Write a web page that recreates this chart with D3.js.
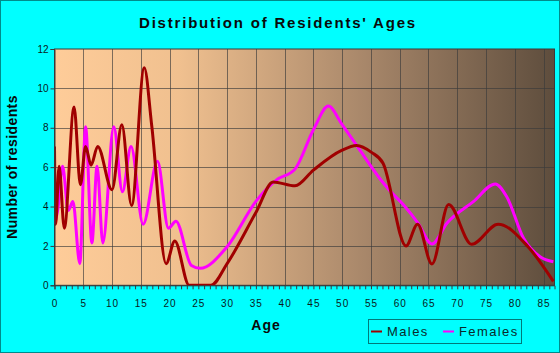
<!DOCTYPE html>
<html lang="en">
<head>
    <meta charset="UTF-8">
    <title>Distribution of Residents' Ages</title>
    <script src="https://d3js.org/d3.v7.min.js"></script>
    <style>
        body { margin: 0; background: #00ffff; }
        svg { display: block; font-family: Arial, "Liberation Sans", sans-serif; }
        .grid line { stroke: #3a3a3a; stroke-opacity: 0.65; shape-rendering: crispEdges; }
        .tick-label { font-size: 10px; fill: #0a1a1a; }
    </style>
</head>
<body>
    <svg width="560" height="353"></svg>

    <script>
        // ages (x of each bend) and the matching counts
        const maleAges   = [0, 0.2, 0.8, 1.7, 3.4, 4.5, 5.4, 6.35, 7.5, 10, 11.7, 13.4, 15.6, 16.9, 19.4, 20.9, 23.4, 27.2, 30, 35.1, 38, 41.8, 45, 49.9, 52.5, 55.1, 57.1, 61.1, 63.1, 65.6, 68.5, 72.5, 77.1, 82.3, 86.7];
        const maleCounts = [7.05, 3.1, 6.05, 2.9, 9.05, 5.1, 7.05, 6.1, 7.05, 4.85, 8.15, 4.05, 11.05, 8.1, 1.1, 2.25, 0, 0, 1.1, 3.75, 5.25, 5.05, 5.85, 6.85, 7.1, 6.75, 6.2, 2.0, 3.1, 1.08, 4.1, 2.08, 3.1, 1.96, 0.2];

        const femaleAges   = [0, 0.6, 1.4, 2.4, 3.2, 4.4, 5.4, 6.5, 7.4, 8.4, 10.3, 11.8, 13.3, 15.4, 17.9, 19.8, 21.1, 23.8, 25.3, 30, 35.1, 38.6, 41.8, 45, 47.6, 49.9, 53.1, 56.6, 58.3, 60.6, 63.2, 65.6, 68.2, 72.8, 76.6, 78.6, 81.5, 84.4, 86.7];
        const femaleCounts = [3.1, 3.9, 6.05, 3.8, 4.25, 1.1, 8.05, 2.15, 6.05, 2.15, 8.05, 4.75, 7.05, 3.1, 6.3, 2.9, 3.25, 1.0, 0.86, 1.96, 4.3, 5.35, 5.9, 7.9, 9.1, 8.2, 6.85, 5.4, 4.8, 4.1, 3.15, 2.1, 3.15, 4.25, 5.15, 4.5, 2.4, 1.45, 1.2];

        const xTicks = d3.range(0, 90, 5);
        const yTicks = d3.range(0, 13, 2);

        const svg = d3.select("svg");
        const width = +svg.attr("width");
        const height = +svg.attr("height");

        const margin = { top: 49, right: 5.5, bottom: 67.7, left: 54.5 };
        const plotW = width - margin.left - margin.right;
        const plotH = height - margin.top - margin.bottom;

        const x = d3.scaleLinear().domain([0, 86.9]).range([margin.left, margin.left + plotW]);
        const y = d3.scaleLinear().domain([0, 12]).range([margin.top + plotH, margin.top]);

        // outer frame
        svg.append("rect")
            .attr("x", 0.5).attr("y", 0.5)
            .attr("width", width - 1).attr("height", height - 1)
            .attr("fill", "#00ffff")
            .attr("stroke", "#008b8b");

        const defs = svg.append("defs");
        const grad = defs.append("linearGradient")
            .attr("id", "bg")
            .attr("x1", "0%").attr("x2", "100%")
            .attr("y1", "0%").attr("y2", "0%");
        grad.append("stop").attr("offset", "0%").attr("stop-color", "#fecc99");
        grad.append("stop").attr("offset", "25%").attr("stop-color", "#f0c08f");
        grad.append("stop").attr("offset", "62%").attr("stop-color", "#a8876a");
        grad.append("stop").attr("offset", "100%").attr("stop-color", "#5e4d3d");

        svg.append("rect")
            .attr("x", margin.left).attr("y", margin.top)
            .attr("width", plotW).attr("height", plotH)
            .attr("fill", "url(#bg)");

        // grid
        const grid = svg.append("g").attr("class", "grid");
        grid.selectAll(".vx")
            .data(xTicks.filter(d => d > 0))
            .enter().append("line")
            .attr("x1", d => Math.round(x(d)) + 0.5).attr("x2", d => Math.round(x(d)) + 0.5)
            .attr("y1", margin.top).attr("y2", margin.top + plotH);
        grid.selectAll(".hy")
            .data(yTicks.filter(d => d > 0 && d < 12))
            .enter().append("line")
            .attr("x1", margin.left).attr("x2", margin.left + plotW)
            .attr("y1", d => Math.round(y(d)) + 0.5).attr("y2", d => Math.round(y(d)) + 0.5);

        // plot border
        svg.append("rect")
            .attr("x", margin.left).attr("y", margin.top)
            .attr("width", plotW).attr("height", plotH)
            .attr("fill", "none")
            .attr("stroke", "#3a3a3a")
            .attr("stroke-width", 1);

        // lines
        const male = maleAges.map((a, i) => [a, maleCounts[i]]);
        const female = femaleAges.map((a, i) => [a, femaleCounts[i]]);

        const line = d3.line()
            .x(d => x(d[0]))
            .y(d => y(d[1]))
            .curve(d3.curveMonotoneX);

        const plot = svg.append("g");
        plot.append("clipPath").attr("id", "clip")
            .append("rect")
            .attr("x", margin.left).attr("y", margin.top - 3)
            .attr("width", plotW).attr("height", plotH + 3);

        plot.append("path")
            .datum(female)
            .attr("d", line)
            .attr("fill", "none")
            .attr("stroke", "#ff00ff")
            .attr("stroke-width", 3)
            .attr("clip-path", "url(#clip)");

        plot.append("path")
            .datum(male)
            .attr("d", line)
            .attr("fill", "none")
            .attr("stroke", "#a00000")
            .attr("stroke-width", 3)
            .attr("clip-path", "url(#clip)");

        // x axis
        const xAxis = d3.axisBottom(x)
            .tickValues(d3.range(0, 87, 1))
            .tickSize(4)
            .tickFormat("");
        const gx = svg.append("g")
            .attr("transform", `translate(0,${margin.top + plotH})`)
            .call(xAxis);
        gx.select(".domain").attr("stroke", "#3a3a3a");
        gx.selectAll(".tick line").attr("stroke", "#3a3a3a");

        svg.selectAll(".xlab")
            .data(xTicks)
            .enter().append("text")
            .attr("class", "tick-label")
            .attr("x", d => x(d) + 0.5)
            .attr("y", 307)
            .attr("text-anchor", "middle")
            .style("letter-spacing", "1px")
            .text(d => d);

        // y axis
        const yAxis = d3.axisLeft(y)
            .tickValues(yTicks)
            .tickSize(4)
            .tickPadding(2)
            .tickFormat(d => d);
        const gy = svg.append("g")
            .attr("transform", `translate(${margin.left},0)`)
            .call(yAxis);
        gy.select(".domain").attr("stroke", "#3a3a3a");
        gy.selectAll(".tick line").attr("stroke", "#3a3a3a");
        gy.selectAll(".tick text")
            .attr("class", "tick-label")
            .style("font-family", "Arial, 'Liberation Sans', sans-serif");

        // title and axis titles
        svg.append("text")
            .attr("x", 278).attr("y", 28)
            .attr("text-anchor", "middle")
            .style("font-size", "15px")
            .style("font-weight", "bold")
            .style("letter-spacing", "1.8px")
            .attr("fill", "#0a0a0a")
            .text("Distribution of Residents' Ages");

        svg.append("text")
            .attr("x", 266).attr("y", 330)
            .attr("text-anchor", "middle")
            .style("font-size", "14px")
            .style("font-weight", "bold")
            .style("letter-spacing", "1px")
            .attr("fill", "#0a0a0a")
            .text("Age");

        svg.append("text")
            .attr("transform", "translate(17,167) rotate(-90)")
            .attr("text-anchor", "middle")
            .style("font-size", "14px")
            .style("font-weight", "bold")
            .style("letter-spacing", "0.4px")
            .attr("fill", "#0a0a0a")
            .text("Number of residents");

        // legend
        const legend = svg.append("g");
        legend.append("rect")
            .attr("x", 368.5).attr("y", 319.5)
            .attr("width", 153).attr("height", 24)
            .attr("fill", "none")
            .attr("stroke", "#007a7a");

        const items = [
            { name: "Males", color: "#a00000", x: 371 },
            { name: "Females", color: "#ff00ff", x: 443 }
        ];
        const li = legend.selectAll(".item")
            .data(items)
            .enter().append("g");
        li.append("line")
            .attr("x1", d => d.x).attr("x2", d => d.x + 11)
            .attr("y1", 331.5).attr("y2", 331.5)
            .attr("stroke", d => d.color)
            .attr("stroke-width", 2);
        li.append("text")
            .attr("x", d => d.x + 16)
            .attr("y", 336)
            .style("font-size", "13px")
            .style("letter-spacing", "1.4px")
            .attr("fill", "#0a2a2a")
            .text(d => d.name);
    </script>
</body>
</html>
